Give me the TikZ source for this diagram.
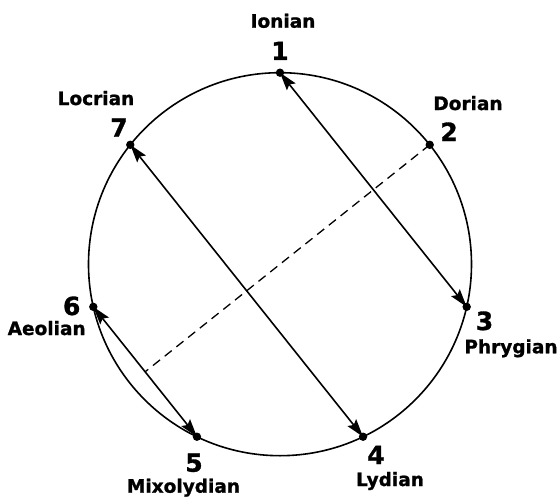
\documentclass[tikz,border=0pt]{standalone}
\usepackage{fontspec}
\setmainfont{DejaVu Sans}[BoldFeatures={FakeBold=1.2}]
\usetikzlibrary{arrows.meta, calc}

\begin{document}
\begin{tikzpicture}[x=1pt, y=1pt,
  chord/.style={{Stealth[length=18pt,width=11pt,inset=3pt]}-{Stealth[length=18pt,width=11pt,inset=3pt]}, line width=1.6pt},
  guide/.style={line width=1.3pt, dash pattern=on 9pt off 6pt},
  modenum/.style={anchor=base, font=\fontsize{25}{25}\selectfont\bfseries},
  modename/.style={anchor=base, font=\fontsize{18.5}{18.5}\selectfont\bfseries}]
  \useasboundingbox (-280pt,-231.8pt) rectangle (280pt,264.2pt);
  % the circle of modes
  \draw[line width=1.6pt] (0,0) circle (191.5pt);
  \coordinate (m1) at (90:191.5pt);
  \coordinate (m2) at (38.57:191.5pt);
  \coordinate (m3) at (-12.86:191.5pt);
  \coordinate (m4) at (-64.29:191.5pt);
  \coordinate (m5) at (-115.71:191.5pt);
  \coordinate (m6) at (192.86:191.5pt);
  \coordinate (m7) at (141.43:191.5pt);
  % chords
  \draw[chord] (m1) -- (m3);
  \draw[chord] (m7) -- (m4);
  \draw[chord] (m6) -- (m5);
  \draw[guide] (m2) -- ($(m6)!(m2)!(m5)$);
  \fill (m1) circle (4.2pt);
  \fill (m2) circle (4.2pt);
  \fill (m3) circle (4.2pt);
  \fill (m4) circle (4.2pt);
  \fill (m5) circle (4.2pt);
  \fill (m6) circle (4.2pt);
  \fill (m7) circle (4.2pt);
  % labels
  \node[modenum] (n1) at (0pt,204.2pt) {1};
  \node[modename] (t1) at (3pt,236.5pt) {Ionian};
  \node[modenum] (n2) at (169pt,123.2pt) {2};
  \node[modename] (t2) at (188pt,154.2pt) {Dorian};
  \node[modenum] (n3) at (204.5pt,-65.8pt) {3};
  \node[modename] (t3) at (231pt,-89.1pt) {Phrygian};
  \node[modenum] (n4) at (96pt,-199.8pt) {4};
  \node[modename] (t4) at (110pt,-221.8pt) {Lydian};
  \node[modenum] (n5) at (-86pt,-207.5pt) {5};
  \node[modename] (t5) at (-96.5pt,-228.5pt) {Mixolydian};
  \node[modenum] (n6) at (-208.3pt,-50.8pt) {6};
  \node[modename] (t6) at (-233.3pt,-70.8pt) {Aeolian};
  \node[modenum] (n7) at (-161pt,127.5pt) {7};
  \node[modename] (t7) at (-184pt,159.2pt) {Locrian};
\end{tikzpicture}
\end{document}
